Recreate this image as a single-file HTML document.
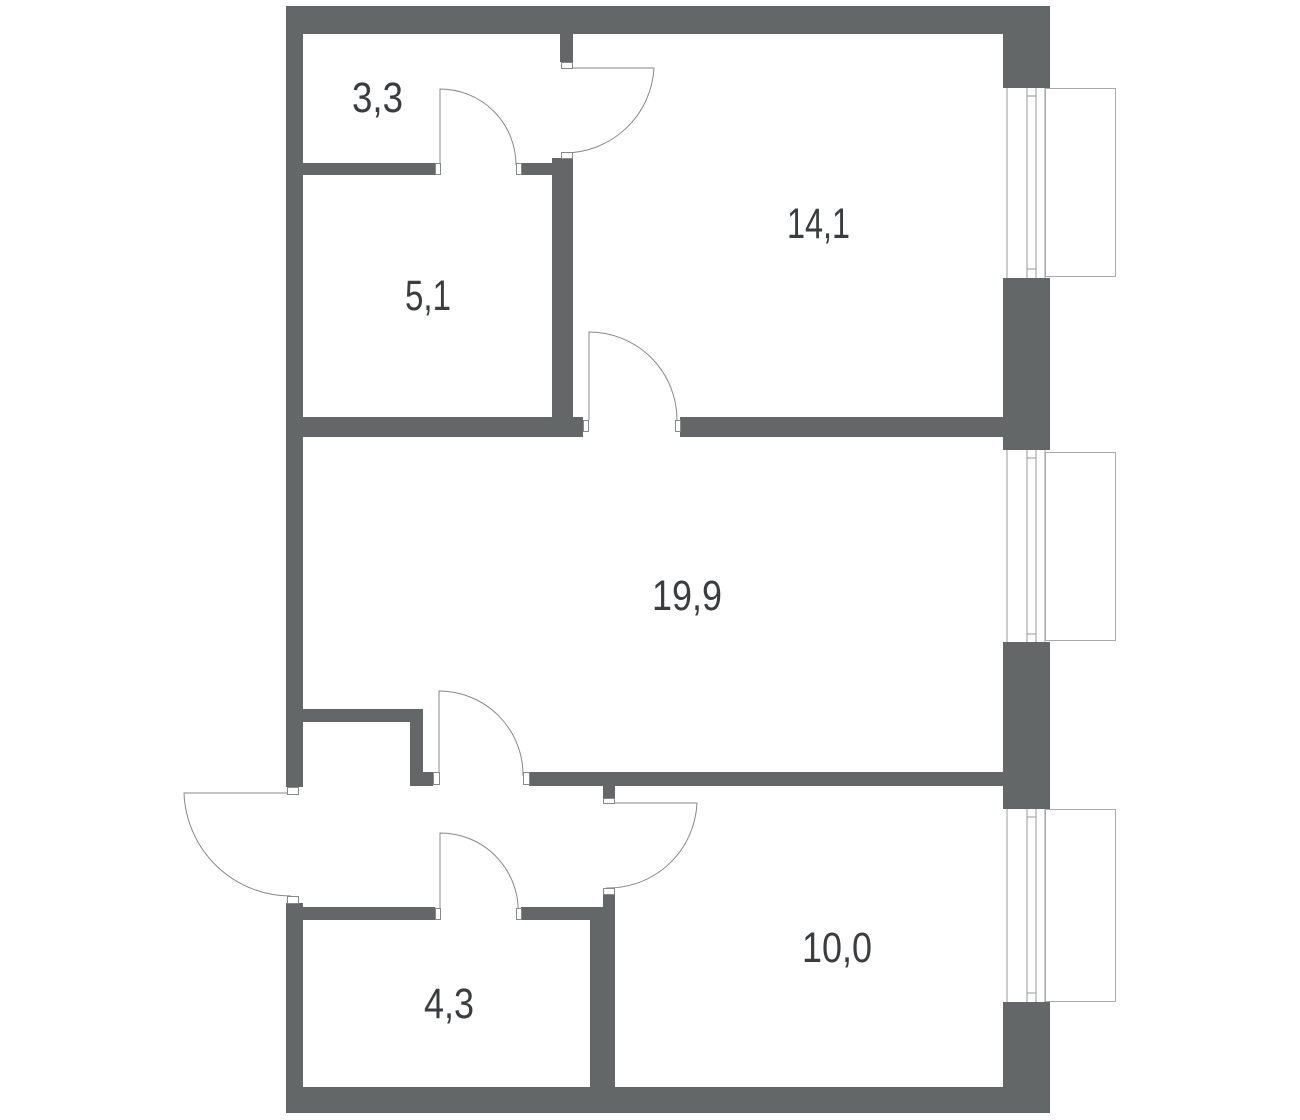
<!DOCTYPE html>
<html><head><meta charset="utf-8"><style>html,body{margin:0;padding:0;background:#fff}svg{display:block}</style></head>
<body>
<svg width="1300" height="1120" viewBox="0 0 1300 1120" xmlns="http://www.w3.org/2000/svg">
<g fill="#636767">
<!-- top wall -->
<rect x="286" y="6" width="764" height="28"/>
<!-- left wall upper -->
<rect x="286" y="6" width="17" height="781"/>
<!-- left wall lower -->
<rect x="286" y="903" width="17" height="210"/>
<!-- bottom wall -->
<rect x="286" y="1087" width="764" height="26"/>
<!-- right wall segments -->
<rect x="1003" y="6" width="47" height="82"/>
<rect x="1003" y="278" width="47" height="172"/>
<rect x="1003" y="642" width="47" height="167"/>
<rect x="1003" y="1002" width="47" height="111"/>
<!-- top stub -->
<rect x="560" y="34" width="13" height="28"/>
<!-- 3.3/5.1 partition -->
<rect x="303" y="163" width="132" height="12"/>
<rect x="521" y="163" width="40" height="12"/>
<rect x="552" y="158" width="21" height="279"/>
<rect x="303" y="417" width="280" height="20"/>
<!-- wall 14.1/19.9 -->
<rect x="680" y="417" width="323" height="20"/>
<!-- small partition near entrance -->
<rect x="303" y="709" width="120" height="13"/>
<rect x="410" y="709" width="13" height="77"/>
<rect x="410" y="772" width="23" height="14"/>
<!-- wall 19.9/10.0 -->
<rect x="529" y="772" width="474" height="14"/>
<rect x="603" y="786" width="12" height="12"/>
<!-- 4.3 walls -->
<rect x="286" y="907" width="149" height="13"/>
<rect x="521" y="907" width="82" height="13"/>
<rect x="603" y="895" width="12" height="200"/>
<rect x="590" y="907" width="25" height="188"/>
</g>
<!-- windows -->
<g fill="none" stroke="#999" stroke-width="1">
<g>
<line x1="1007" y1="88" x2="1007" y2="278"/><line x1="1027" y1="88" x2="1027" y2="278"/><line x1="1036" y1="88" x2="1036" y2="278"/><line x1="1045" y1="88" x2="1045" y2="278"/>
<line x1="1027" y1="96" x2="1036" y2="96"/><line x1="1027" y1="269" x2="1036" y2="269"/>
<rect x="1045.5" y="88.5" width="70" height="188" stroke="#aaa"/>
</g>
<g>
<line x1="1007" y1="450" x2="1007" y2="642"/><line x1="1027" y1="450" x2="1027" y2="642"/><line x1="1036" y1="450" x2="1036" y2="642"/><line x1="1045" y1="450" x2="1045" y2="642"/>
<line x1="1027" y1="458" x2="1036" y2="458"/><line x1="1027" y1="634" x2="1036" y2="634"/>
<rect x="1045.5" y="452.5" width="70" height="188" stroke="#aaa"/>
</g>
<g>
<line x1="1007" y1="809" x2="1007" y2="1002"/><line x1="1027" y1="809" x2="1027" y2="1002"/><line x1="1036" y1="809" x2="1036" y2="1002"/><line x1="1045" y1="809" x2="1045" y2="1002"/>
<line x1="1027" y1="817" x2="1036" y2="817"/><line x1="1027" y1="993" x2="1036" y2="993"/>
<rect x="1045.5" y="809.5" width="70" height="192" stroke="#aaa"/>
</g>
</g>
<!-- doors -->
<g fill="none" stroke="#888" stroke-width="1">
<path d="M440 165 V89 A76 76 0 0 1 516 165"/>
<path d="M564 68 H654 A90 90 0 0 1 564 153"/>
<path d="M589 420 V332 A88 88 0 0 1 677 420"/>
<path d="M439 776 V691 A84 84 0 0 1 523 776"/>
<path d="M291 793 H184 A107 107 0 0 0 291 896"/>
<path d="M606 803 H697 A89 89 0 0 1 606 888"/>
<path d="M440 917 V833 A78 78 0 0 1 518 917"/>
</g>
<g fill="#fff" stroke="#888" stroke-width="1">
<rect x="435.5" y="163.5" width="5" height="11"/><rect x="516.5" y="163.5" width="5" height="11"/>
<rect x="561.5" y="62.5" width="11" height="6"/><rect x="561.5" y="152.5" width="11" height="6"/>
<rect x="583.5" y="420.5" width="5" height="11"/><rect x="675.5" y="420.5" width="5" height="11"/>
<rect x="433.5" y="772.5" width="6" height="12"/><rect x="523.5" y="772.5" width="6" height="12"/>
<rect x="287.5" y="787.5" width="11" height="7"/><rect x="287.5" y="896.5" width="11" height="7"/>
<rect x="603.5" y="798.5" width="11" height="5"/><rect x="603.5" y="888.5" width="11" height="6"/>
<rect x="435.5" y="908.5" width="5" height="11"/><rect x="516.5" y="908.5" width="5" height="11"/>
</g>
<g fill="#3a3d40" font-family="Liberation Sans, sans-serif" font-size="43">
<text x="352" y="112" textLength="51" lengthAdjust="spacingAndGlyphs">3,3</text>
<text x="405" y="310" textLength="46" lengthAdjust="spacingAndGlyphs">5,1</text>
<text x="787" y="238" textLength="63" lengthAdjust="spacingAndGlyphs">14,1</text>
<text x="652" y="610" textLength="70" lengthAdjust="spacingAndGlyphs">19,9</text>
<text x="424" y="1018" textLength="50" lengthAdjust="spacingAndGlyphs">4,3</text>
<text x="802" y="962" textLength="70" lengthAdjust="spacingAndGlyphs">10,0</text>
</g>
</svg>
</body></html>
